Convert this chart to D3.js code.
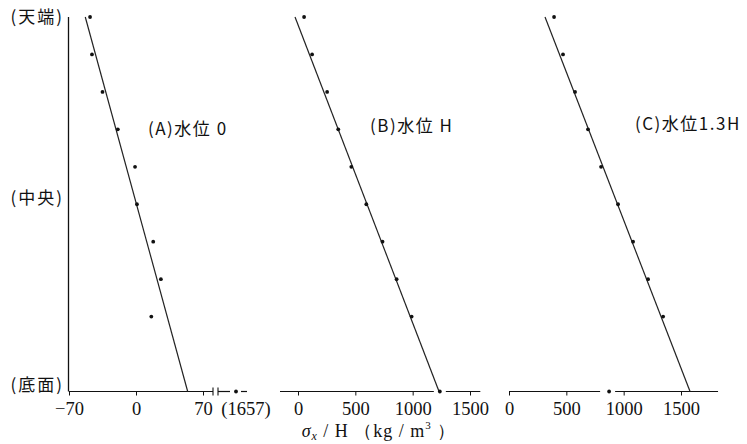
<!DOCTYPE html>
<html>
<head>
<meta charset="utf-8">
<script src="https://cdn.jsdelivr.net/npm/d3@7/dist/d3.min.js"></script>
<style>
  body { margin: 0; background: #fff; }
  text { fill: #111; }
</style>
</head>
<body>
<svg class="chart" width="747" height="444"></svg>
<script>
// depth ratio measured from top (天端) to bottom (底面)
var levels = [0, 0.1, 0.2, 0.3, 0.4, 0.5, 0.6, 0.7, 0.8, 1.0];
var levelNames = ['(天端)', '(中央)', '(底面)'];
var levelNameAt = [0, 0.5, 1];

// sigma_x / H values per panel
var aVals = [-48, -46, -35, -19, -1, 1, 18, 26, 16, 1657];
var bVals = [53, 123, 254, 351, 465, 596, 737, 860, 991, 1237];
var cVals = [393, 471, 576, 689, 803, 951, 1082, 1213, 1344, 873];

// fitted straight lines (top, bottom)
var aFit = [-53, 54];
var bFit = [-26, 1230];
var cFit = [314, 1579];

var aTicks = [-70, 0, 70];
var bTicks = [0, 500, 1000, 1500];
var cTicks = [0, 500, 1000, 1500];
var aOutlierLabel = '(1657)';
var panelTitles = ['(A)水位 0', '(B)水位 H', '(C)水位1.3H'];

var svg = d3.select('.chart');
var serif = '"Liberation Serif", "DejaVu Serif", serif';
var cjk = '"Noto Sans CJK JP", "Noto Sans", sans-serif';

var y = d3.scaleLinear().domain([0, 1]).range([17, 391.5]);
var base = y(1);

// broken axis for panel A: last segment squeezes the outlier in
var xA = d3.scaleLinear().domain([-70, 70, 1657]).range([69, 203, 236]);
var xB = d3.scaleLinear().domain([0, 1500]).range([298, 470]);
var xC = d3.scaleLinear().domain([0, 1500]).range([509, 681]);

// vertical axis
svg.append('line')
  .attr('x1', 68.5).attr('x2', 68.5)
  .attr('y1', y(0)).attr('y2', base)
  .attr('stroke', '#111').attr('stroke-width', 1.3);

svg.selectAll('.lvl')
  .data(levelNames)
  .enter()
  .append('text')
  .attr('class', 'lvl')
  .attr('x', 64)
  .attr('y', function(d, i) { return y(levelNameAt[i]) - (i == 1 ? 6 : (i == 2 ? 7 : 0)); })
  .attr('dy', '0.36em')
  .attr('text-anchor', 'end')
  .style('font-family', cjk)
  .style('font-size', '17px')
  .style('letter-spacing', '2px')
  .text(function(d) { return d; });

function hline(x1, x2) {
  svg.append('line')
    .attr('x1', x1).attr('x2', x2)
    .attr('y1', base).attr('y2', base)
    .attr('stroke', '#111').attr('stroke-width', 1.2);
}

function ticks(scale, vals, fmt) {
  var g = svg.append('g')
    .attr('transform', 'translate(0,' + base + ')')
    .call(d3.axisBottom(scale).tickValues(vals).tickSize(4).tickPadding(6).tickFormat(fmt));
  g.select('.domain').remove();
  g.selectAll('line').attr('stroke', '#111');
  g.selectAll('text')
    .style('font-family', serif)
    .style('font-size', '18.5px')
    .attr('fill', '#111');
}

function panel(scale, vals, fit, title, tx, ty) {
  svg.append('line')
    .attr('x1', scale(fit[0])).attr('y1', y(0))
    .attr('x2', scale(fit[1])).attr('y2', y(1))
    .attr('stroke', '#222').attr('stroke-width', 1.2);

  svg.selectAll(null)
    .data(vals)
    .enter()
    .append('circle')
    .attr('cx', function(d) { return scale(d); })
    .attr('cy', function(d, i) { return y(levels[i]); })
    .attr('r', 1.9)
    .attr('fill', '#111');

  svg.append('text')
    .attr('x', tx).attr('y', ty)
    .attr('dy', '0.36em')
    .style('font-family', cjk)
    .style('font-size', '17px')
    .style('letter-spacing', '1.5px')
    .text(title);
}

// panel A axis with break marks
var aEnd = xA(70) + 10;
hline(xA(-70), aEnd);
[aEnd, aEnd + 5].forEach(function(x) {
  svg.append('line')
    .attr('x1', x).attr('x2', x)
    .attr('y1', base - 4).attr('y2', base + 4)
    .attr('stroke', '#111').attr('stroke-width', 1.1);
});
hline(aEnd + 5, xA(1657) - 6);
hline(xA(1657) + 5, xA(1657) + 11);
ticks(xA, aTicks, function(d) { return d < 0 ? '−' + Math.abs(d) : d; });
svg.append('text')
  .attr('x', xA(1657) + 10).attr('y', base + 23)
  .attr('text-anchor', 'middle')
  .style('font-family', serif)
  .style('font-size', '18.5px')
  .text(aOutlierLabel);

// panel B axis
hline(xB(-157), xB(bVals[9]) - 6);
hline(xB(bVals[9]) + 6, xB(1590));
ticks(xB, bTicks, d3.format('d'));

// panel C axis
hline(xC(0), xC(cVals[9]) - 9);
hline(xC(cVals[9]) + 6, xC(1823));
ticks(xC, cTicks, d3.format('d'));

panel(xA, aVals, aFit, panelTitles[0], 148, 129);
panel(xB, bVals, bFit, panelTitles[1], 370, 126);
panel(xC, cVals, cFit, panelTitles[2], 635, 124);

// x-axis title
var title = svg.append('text')
  .attr('x', 379).attr('y', 437)
  .attr('text-anchor', 'middle')
  .style('font-family', serif)
  .style('font-size', '18px')
  .style('letter-spacing', '1px');
title.append('tspan').style('font-style', 'italic').text('σ');
title.append('tspan').style('font-style', 'italic').style('font-size', '12px').attr('dy', 3).text('x');
title.append('tspan').attr('dy', -3).text(' /  H   （kg / m');
title.append('tspan').style('font-size', '11px').attr('dy', -8).text('3');
title.append('tspan').attr('dy', 8).text(' ）');
</script>
</body>
</html>
